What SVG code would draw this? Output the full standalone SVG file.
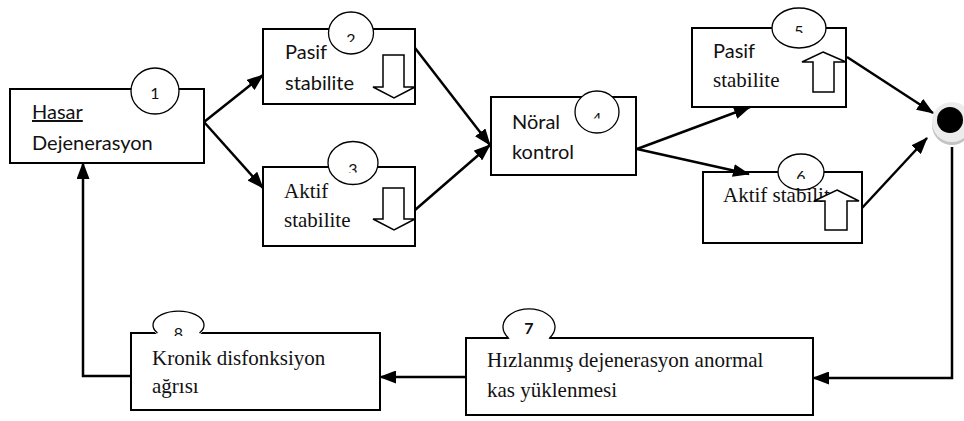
<svg xmlns="http://www.w3.org/2000/svg" width="964" height="421" viewBox="0 0 964 421">
<style>
.box{fill:#fff;stroke:#000;stroke-width:2}
.circ{fill:#fff;stroke:#000;stroke-width:1.3}
.cfill{fill:#fff;stroke:none}
.arc{fill:none;stroke:#000;stroke-width:1.3}
.blk{fill:#fff;stroke:#000;stroke-width:1.5;stroke-linejoin:miter}
.sans{font-family:Lato,"Open Sans","Liberation Sans",sans-serif;font-size:20px;fill:#111}
.serif{font-family:"Liberation Serif","Times New Roman",serif;font-size:21px;fill:#111}
.dig{font-family:Lato,"Liberation Sans",sans-serif;font-size:16px;fill:#111;text-anchor:middle}
.con{fill:none;stroke:#000;stroke-width:2.5}
</style>
<defs>
<marker id="ah" markerUnits="userSpaceOnUse" markerWidth="17" markerHeight="13" refX="16" refY="6.5" orient="auto">
<path d="M0,0 L17,6.5 L0,13 z" fill="#000"/>
</marker>
<clipPath id="c2"><rect x="320" y="0" width="60" height="42"/></clipPath>
<clipPath id="c3"><rect x="320" y="140" width="60" height="32.5"/></clipPath>
<clipPath id="c4"><rect x="570" y="90" width="60" height="28.5"/></clipPath>
<clipPath id="c5"><rect x="770" y="0" width="60" height="33"/></clipPath>
<clipPath id="c6"><rect x="770" y="150" width="60" height="29"/></clipPath>
<clipPath id="c8"><rect x="150" y="300" width="60" height="36"/></clipPath>
</defs>

<g id="node1">
<rect class="box" x="10" y="89" width="194" height="74"/>
<ellipse class="circ" cx="155" cy="91" rx="24" ry="23"/>
<text class="dig" x="155" y="98.5">1</text>
<text class="sans" x="32" y="119" text-decoration="underline">Hasar</text>
<text class="sans" x="32" y="150">Dejenerasyon</text>
</g>

<g id="node2">
<rect class="box" x="263" y="29" width="152" height="75"/>
<ellipse class="circ" cx="351" cy="33" rx="22.5" ry="21"/>
<text class="dig" x="351" y="45" clip-path="url(#c2)">2</text>
<text class="sans" x="285" y="59">Pasif</text>
<text class="sans" x="285" y="90">stabilite</text>
<polygon class="blk" points="383,55 404,55 404,87 415,87 394,98 373,87 383,87"/>
</g>

<g id="node3">
<rect class="box" x="263" y="167" width="152" height="79"/>
<ellipse class="circ" cx="353" cy="163" rx="25" ry="21.5"/>
<text class="dig" x="353" y="175" clip-path="url(#c3)">3</text>
<text class="serif" x="284" y="198">Aktif</text>
<text class="serif" x="284" y="227">stabilite</text>
<polygon class="blk" points="383,188 404,188 404,219 415,219 394,230 373,219 383,219"/>
</g>

<g id="node4">
<rect class="box" x="491" y="97" width="145" height="78"/>
<ellipse class="circ" cx="597" cy="112" rx="22" ry="21"/>
<text class="dig" x="597" y="124" clip-path="url(#c4)">4</text>
<text class="sans" x="512" y="129">Nöral</text>
<text class="sans" x="512" y="159">kontrol</text>
</g>

<g id="node5">
<rect class="box" x="692" y="28" width="154" height="79"/>
<ellipse class="circ" cx="799" cy="28" rx="27" ry="20"/>
<text class="dig" x="799" y="37" clip-path="url(#c5)">5</text>
<text class="sans" x="713" y="58">Pasif</text>
<text class="serif" x="713" y="87">stabilite</text>
<polygon class="blk" points="823,52 846,62 834,62 834,92 813,92 813,62 802,62"/>
</g>

<g id="node6">
<rect class="box" x="703" y="172" width="159" height="71"/>
<ellipse class="circ" cx="801" cy="172" rx="23" ry="18"/>
<text class="dig" x="801" y="182" clip-path="url(#c6)">6</text>
<text class="serif" x="723" y="202">Aktif stabilite</text>
<polygon class="blk" points="837,190 859,201 847,201 847,230 825,230 825,201 814,201"/>
</g>

<g id="node7">
<rect class="box" x="466" y="338" width="347" height="77"/>
<ellipse class="cfill" cx="529" cy="327" rx="26" ry="18"/>
<path class="arc" d="M508.5,338 A26,18 0 1 1 549.5,338"/>
<text class="dig" x="529" y="334" font-weight="bold">7</text>
<text class="serif" x="487" y="367">Hızlanmış dejenerasyon anormal</text>
<text class="serif" x="487" y="397">kas yüklenmesi</text>
</g>

<g id="node8">
<rect class="box" x="131" y="333" width="249" height="77"/>
<ellipse class="cfill" cx="178.5" cy="327" rx="25.5" ry="14"/>
<path class="arc" d="M157.5,333 A25.5,14 0 1 1 199.5,333"/>
<text class="dig" x="178.5" y="339" clip-path="url(#c8)">8</text>
<text class="serif" x="152" y="365">Kronik disfonksiyon</text>
<text class="serif" x="152" y="393">ağrısı</text>
</g>

<g id="junction">
<circle cx="952" cy="125" r="20" fill="#c4c4c4"/>
<circle cx="952" cy="122" r="20" fill="#ececec"/>
<circle cx="950" cy="120" r="13" fill="#000"/>
</g>

<g id="connectors">
<line class="con" x1="204" y1="122" x2="263" y2="75" marker-end="url(#ah)"/>
<line class="con" x1="204" y1="122" x2="263" y2="188" marker-end="url(#ah)"/>
<line class="con" x1="415" y1="48" x2="490" y2="145" marker-end="url(#ah)"/>
<line class="con" x1="415" y1="210" x2="490" y2="145" marker-end="url(#ah)"/>
<line class="con" x1="637" y1="149" x2="750" y2="107" marker-end="url(#ah)"/>
<line class="con" x1="637" y1="149" x2="749" y2="174" marker-end="url(#ah)"/>
<line class="con" x1="847" y1="57" x2="933" y2="113" marker-end="url(#ah)"/>
<line class="con" x1="862" y1="208" x2="927" y2="138" marker-end="url(#ah)"/>
<polyline class="con" points="952,147 952,378 813,378" marker-end="url(#ah)"/>
<line class="con" x1="466" y1="377" x2="380" y2="377" marker-end="url(#ah)"/>
<polyline class="con" points="131,376 83,376 83,163" marker-end="url(#ah)"/>
</g>
</svg>
